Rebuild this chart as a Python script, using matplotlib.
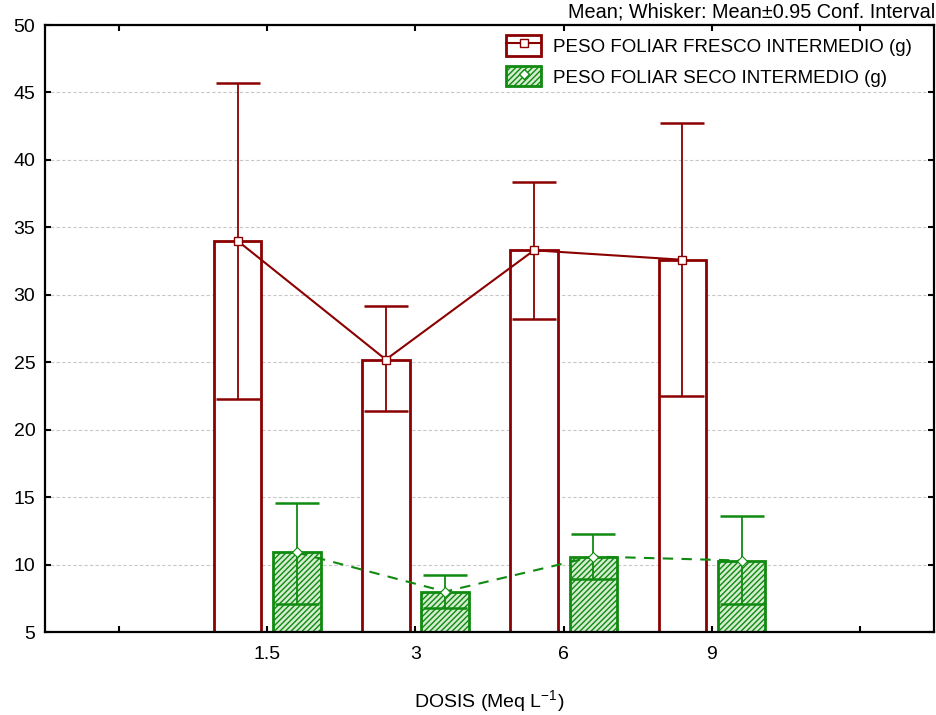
import numpy as np
import matplotlib
matplotlib.use("Agg")
import matplotlib.pyplot as plt
from matplotlib.patches import Patch
from matplotlib.lines import Line2D

plt.rcParams['font.family'] = ['Liberation Sans', 'DejaVu Sans']
plt.rcParams['hatch.linewidth'] = 1.0

dosis = ['1.5', '3', '6', '9']
fresco_mean = [34.0, 25.2, 33.3, 32.6]
fresco_low = [22.3, 21.4, 28.2, 22.5]
fresco_high = [45.7, 29.2, 38.4, 42.7]
seco_mean = [10.9, 8.0, 10.6, 10.3]
seco_low = [7.1, 6.8, 8.9, 7.1]
seco_high = [14.6, 9.2, 12.3, 13.6]

red = '#8b0000'
green = '#108a10'
green_fill = '#d4ecd0'

fig = plt.figure(figsize=(9.37, 7.15), dpi=100)
ax = fig.add_axes([0.048, 0.116, 0.949, 0.849])

x = np.arange(1, len(dosis) + 1)
off = 0.2
w = 0.32
base = 5

fm = np.array(fresco_mean); sm = np.array(seco_mean)
ax.bar(x - off, fm - base, bottom=base, width=w, facecolor='white', edgecolor=red, linewidth=2, zorder=2)
ax.bar(x + off, sm - base, bottom=base, width=w, facecolor=green_fill, edgecolor=green, linewidth=2,
       hatch='//////', zorder=2)

ax.errorbar(x - off, fm, yerr=[fm - np.array(fresco_low), np.array(fresco_high) - fm], fmt='none',
            ecolor=red, elinewidth=1.3, capsize=16, capthick=1.8, zorder=3)
ax.errorbar(x + off, sm, yerr=[sm - np.array(seco_low), np.array(seco_high) - sm], fmt='none',
            ecolor=green, elinewidth=1.3, capsize=16, capthick=1.8, zorder=3)

ax.plot(x - off, fm, color=red, lw=1.5, marker='s', ms=6, mfc='white', mec=red, mew=1.0, zorder=4)
ax.plot(x + off, sm, color=green, lw=1.5, ls=(0, (5, 4)), marker='D', ms=5, mfc='white', mec=green,
        mew=0.8, zorder=4)

ax.set_xlim(-0.5, 5.5)
ax.set_ylim(5, 50)
ax.set_xticks(range(0, 6))
ax.set_xticklabels([''] + dosis + [''])
ax.set_yticks(range(5, 51, 5))
ax.yaxis.grid(True, ls=(0, (3, 2)), color='#c8c8c8', lw=0.8, zorder=0)
ax.set_axisbelow(True)
ax.tick_params(direction='in', length=4, width=1.5, top=True, right=True, labelsize=14, pad=7)
ax.tick_params(axis='x', pad=10)
for s in ax.spines.values():
    s.set_linewidth(1.6)

ax.set_xlabel('DOSIS (Meq L$^{\\mathregular{-1}}$)', fontsize=14, labelpad=18)
fig.text(0.998, 0.983, 'Mean; Whisker: Mean±0.95 Conf. Interval', ha='right', va='center', fontsize=14.3)

h1 = (Patch(facecolor='white', edgecolor=red, linewidth=2),
      Line2D([], [], color=red, lw=1.5, marker='s', ms=6, mfc='white', mec=red))
h2 = (Patch(facecolor=green_fill, edgecolor=green, linewidth=2, hatch='//////'),
      Line2D([], [], color=green, lw=0, marker='D', ms=5, mfc='white', mec=green))
ax.legend([h1, h2], ['PESO FOLIAR FRESCO INTERMEDIO (g)', 'PESO FOLIAR SECO INTERMEDIO (g)'],
          loc='upper left', bbox_to_anchor=(0.5, 1.011), frameon=False, fontsize=13.5,
          handlelength=1.85, handleheight=1.3, handletextpad=0.65, labelspacing=0.55)

fig.savefig('out.png', dpi=100)
